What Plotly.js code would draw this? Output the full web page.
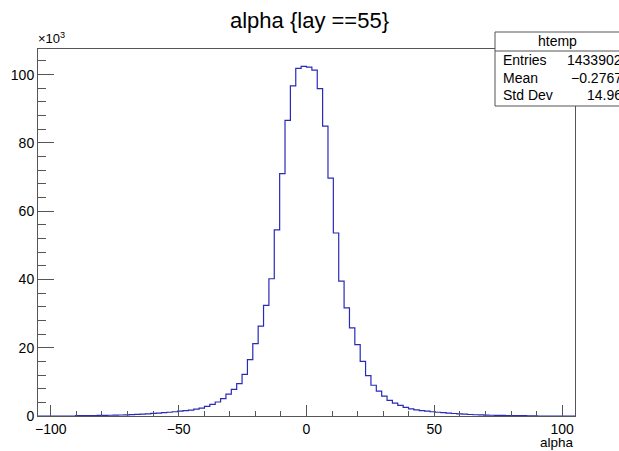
<!DOCTYPE html>
<html>
<head>
<meta charset="utf-8">
<script src="https://cdn.plot.ly/plotly-3.0.1.min.js"></script>
<style>html,body{margin:0;padding:0;background:#fff}#chart{width:619px;height:451px}</style>
</head>
<body>
<div id="chart"></div>
<script>
// Histogram definition (ROOT htemp): 100 bins from -105 to 105
const binLow = -105;
const binWidth = 2.1;
// bin contents in units of 10^3 entries
const counts = [
  0, 0, 0, 0, 0, 0, 0,
  0.09, 0.10, 0.12, 0.14, 0.16, 0.19, 0.22, 0.26, 0.30, 0.35,
  0.41, 0.48, 0.56, 0.65, 0.75, 0.86, 0.98, 1.1, 1.25, 1.4,
  1.55, 1.75, 2.0, 2.3, 2.8, 3.4, 4.1, 5.1, 6.4, 7.8,
  9.5, 12.2, 16.5, 21.2, 26.3, 32.4, 40.2, 54.5, 71.0, 86.6,
  96.7, 101.8, 102.4,
  102.2, 101.3, 95.9, 84.9, 69.7, 53.6, 39.5, 31.7, 25.8, 20.9,
  16.0, 11.8, 9.0, 7.3, 5.8, 4.6, 3.8, 3.1, 2.5, 2.1,
  1.8, 1.55, 1.4, 1.25, 1.1, 0.97, 0.85, 0.73, 0.62, 0.52,
  0.44, 0.37, 0.31, 0.26, 0.22, 0.19, 0.16, 0.14, 0.12, 0.10,
  0.09, 0.08, 0.07,
  0, 0, 0, 0, 0, 0, 0
];
const titleText = 'alpha {lay ==55}';
const xTitle = 'alpha';
const statName = 'htemp';
const statLabels = ['Entries', 'Mean', 'Std Dev'];
const statValues = ['1433902', '\u22120.2767', '14.96'];

// build step outline from bin edges
const xs = [], ys = [];
for (let i = 0; i < counts.length; i++) {
  xs.push(binLow + i * binWidth);
  ys.push(counts[i]);
}
xs.push(binLow + counts.length * binWidth);
ys.push(counts[counts.length - 1]);

const W = 619, H = 451;
const M = {l: 38, r: 44, t: 49, b: 35};
const pw = W - M.l - M.r, ph = H - M.t - M.b;
const px = v => (v - M.l) / pw;
const py = v => (H - M.b - v) / ph;

const font = 'Liberation Sans, Arial, Helvetica, sans-serif';
const axCol = '#555';

const trace = {
  x: xs, y: ys, type: 'scatter', mode: 'lines',
  line: {shape: 'hv', color: '#2a2ab8', width: 1.2},
  hoverinfo: 'skip'
};

const annotations = [
  {xref: 'paper', yref: 'paper', x: px(36), y: py(48), xanchor: 'left', yanchor: 'bottom',
   text: '\u00d710<sup>3</sup>', showarrow: false, font: {family: font, size: 13, color: '#000'}},
  {xref: 'paper', yref: 'paper', x: px(576), y: py(442), xanchor: 'right', yanchor: 'middle',
   text: xTitle, showarrow: false, font: {family: font, size: 13.5, color: '#000'}},
  {xref: 'paper', yref: 'paper', x: px(557), y: py(41), xanchor: 'center', yanchor: 'middle',
   text: statName, showarrow: false, font: {family: font, size: 14, color: '#000'}}
];
const rowY = [60, 77.5, 95];
statLabels.forEach((lab, k) => {
  annotations.push({xref: 'paper', yref: 'paper', x: px(501), y: py(rowY[k]), xanchor: 'left', yanchor: 'middle',
    text: lab, showarrow: false, font: {family: font, size: 14, color: '#000'}});
  annotations.push({xref: 'paper', yref: 'paper', x: px(624), y: py(rowY[k]), xanchor: 'right', yanchor: 'middle',
    text: statValues[k], showarrow: false, font: {family: font, size: 14, color: '#000'}});
});

const shapes = [
  {type: 'rect', xref: 'paper', yref: 'paper', x0: px(495), x1: px(640), y0: py(106), y1: py(32),
   line: {color: axCol, width: 1}, fillcolor: '#fff', layer: 'above'},
  {type: 'line', xref: 'paper', yref: 'paper', x0: px(495), x1: px(640), y0: py(51), y1: py(51),
   line: {color: axCol, width: 1}, layer: 'above'}
];

const layout = {
  width: W, height: H,
  margin: M,
  paper_bgcolor: '#fff', plot_bgcolor: '#fff',
  showlegend: false,
  title: {text: titleText, font: {family: font, size: 22, color: '#000'},
          x: 0.5, xref: 'container', xanchor: 'center', y: 1 - 20 / H, yref: 'container', yanchor: 'middle'},
  xaxis: {
    range: [-105, 105], tick0: 0, dtick: 50, ticks: 'inside', ticklen: 11, tickcolor: axCol, tickwidth: 1,
    showline: true, linecolor: axCol, linewidth: 1, mirror: true, showgrid: false, zeroline: false,
    tickfont: {family: font, size: 14, color: '#000'},
    minor: {dtick: 10, tick0: 0, ticks: 'inside', ticklen: 5.5, tickcolor: axCol, showgrid: false}
  },
  yaxis: {
    range: [0, 107.5], tick0: 0, dtick: 20, ticks: 'inside', ticklen: 16, tickcolor: axCol, tickwidth: 1,
    showline: true, linecolor: axCol, linewidth: 1, mirror: true, showgrid: false, zeroline: false,
    tickfont: {family: font, size: 14, color: '#000'},
    minor: {dtick: 4, tick0: 0, ticks: 'inside', ticklen: 8, tickcolor: axCol, showgrid: false}
  },
  annotations: annotations,
  shapes: shapes
};

Plotly.newPlot('chart', [trace], layout, {staticPlot: true, displayModeBar: false});
</script>
</body>
</html>
